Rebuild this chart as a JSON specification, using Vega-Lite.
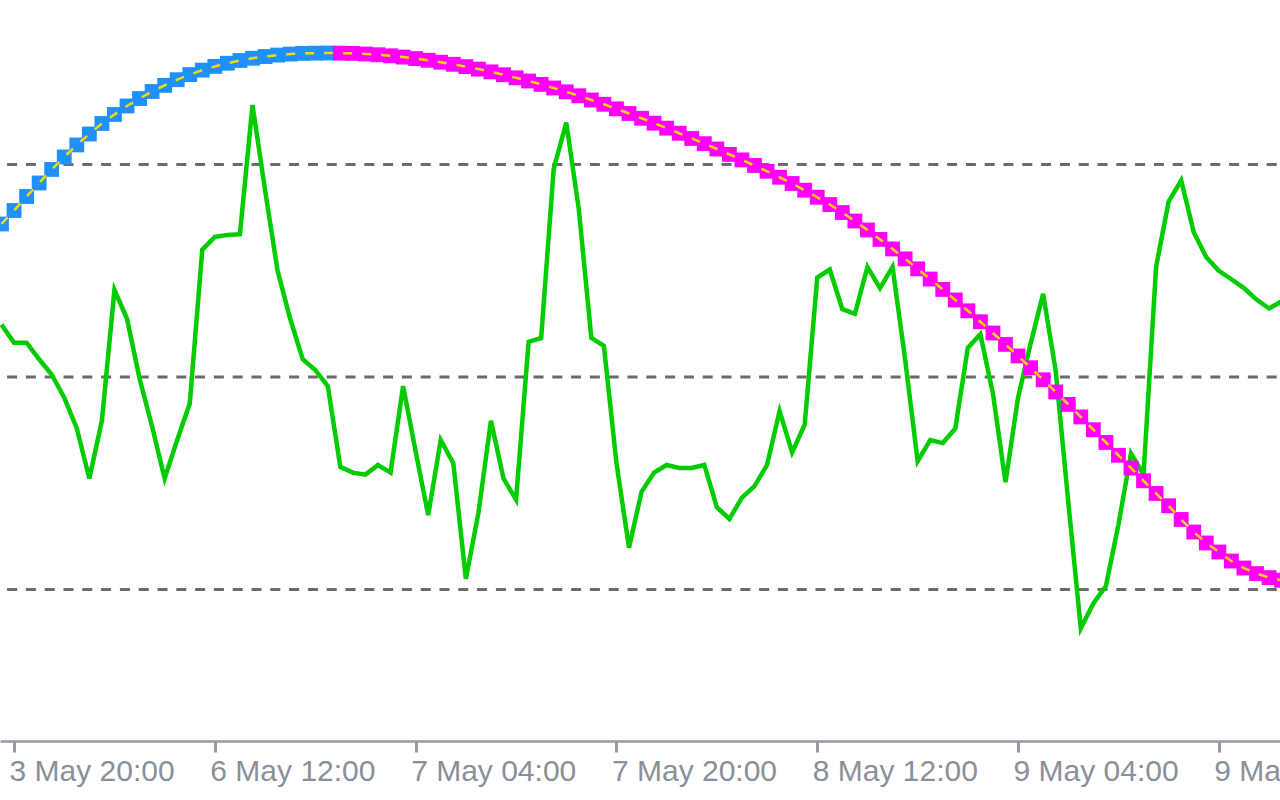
{
  "$schema": "https://vega.github.io/schema/vega-lite/v6.json",
  "width": 1280,
  "height": 741,
  "autosize": {"type": "none"},
  "padding": {"left": 0, "top": 0, "right": 0, "bottom": 59},
  "background": "#ffffff",
  "config": {"view": {"stroke": null}},
  "datasets": {
    "bars": [
      {"i":0,"osc":54.93,"trend":64.40,"dir":"up"},
      {"i":1,"osc":53.23,"trend":65.67,"dir":"up"},
      {"i":2,"osc":53.23,"trend":66.99,"dir":"up"},
      {"i":3,"osc":51.67,"trend":68.26,"dir":"up"},
      {"i":4,"osc":50.23,"trend":69.53,"dir":"up"},
      {"i":5,"osc":48.05,"trend":70.71,"dir":"up"},
      {"i":6,"osc":45.16,"trend":71.84,"dir":"up"},
      {"i":7,"osc":40.45,"trend":72.87,"dir":"up"},
      {"i":8,"osc":45.88,"trend":73.86,"dir":"up"},
      {"i":9,"osc":58.19,"trend":74.71,"dir":"up"},
      {"i":10,"osc":55.48,"trend":75.51,"dir":"up"},
      {"i":11,"osc":49.86,"trend":76.21,"dir":"up"},
      {"i":12,"osc":45.34,"trend":76.87,"dir":"up"},
      {"i":13,"osc":40.45,"trend":77.45,"dir":"up"},
      {"i":14,"osc":44.07,"trend":77.98,"dir":"up"},
      {"i":15,"osc":47.51,"trend":78.46,"dir":"up"},
      {"i":16,"osc":61.99,"trend":78.88,"dir":"up"},
      {"i":17,"osc":63.19,"trend":79.23,"dir":"up"},
      {"i":18,"osc":63.37,"trend":79.53,"dir":"up"},
      {"i":19,"osc":63.44,"trend":79.79,"dir":"up"},
      {"i":20,"osc":75.6,"trend":80.00,"dir":"up"},
      {"i":21,"osc":67.6,"trend":80.16,"dir":"up"},
      {"i":22,"osc":60.0,"trend":80.30,"dir":"up"},
      {"i":23,"osc":55.48,"trend":80.39,"dir":"up"},
      {"i":24,"osc":51.67,"trend":80.46,"dir":"up"},
      {"i":25,"osc":50.66,"trend":80.48,"dir":"up"},
      {"i":26,"osc":49.14,"trend":80.49,"dir":"up"},
      {"i":27,"osc":41.54,"trend":80.48,"dir":"down"},
      {"i":28,"osc":41.0,"trend":80.46,"dir":"down"},
      {"i":29,"osc":40.81,"trend":80.40,"dir":"down"},
      {"i":30,"osc":41.72,"trend":80.33,"dir":"down"},
      {"i":31,"osc":41.0,"trend":80.23,"dir":"down"},
      {"i":32,"osc":49.14,"trend":80.11,"dir":"down"},
      {"i":33,"osc":42.99,"trend":79.97,"dir":"down"},
      {"i":34,"osc":37.0,"trend":79.81,"dir":"down"},
      {"i":35,"osc":44.07,"trend":79.63,"dir":"down"},
      {"i":36,"osc":41.9,"trend":79.43,"dir":"down"},
      {"i":37,"osc":31.0,"trend":79.21,"dir":"down"},
      {"i":38,"osc":37.19,"trend":78.98,"dir":"down"},
      {"i":39,"osc":45.88,"trend":78.72,"dir":"down"},
      {"i":40,"osc":40.45,"trend":78.45,"dir":"down"},
      {"i":41,"osc":38.46,"trend":78.16,"dir":"down"},
      {"i":42,"osc":53.30,"trend":77.86,"dir":"down"},
      {"i":43,"osc":53.67,"trend":77.54,"dir":"down"},
      {"i":44,"osc":69.59,"trend":77.20,"dir":"down"},
      {"i":45,"osc":73.94,"trend":76.84,"dir":"down"},
      {"i":46,"osc":65.79,"trend":76.47,"dir":"down"},
      {"i":47,"osc":53.67,"trend":76.07,"dir":"down"},
      {"i":48,"osc":52.94,"trend":75.67,"dir":"down"},
      {"i":49,"osc":41.9,"trend":75.24,"dir":"down"},
      {"i":50,"osc":33.94,"trend":74.80,"dir":"down"},
      {"i":51,"osc":39.19,"trend":74.35,"dir":"down"},
      {"i":52,"osc":41.0,"trend":73.89,"dir":"down"},
      {"i":53,"osc":41.72,"trend":73.42,"dir":"down"},
      {"i":54,"osc":41.43,"trend":72.94,"dir":"down"},
      {"i":55,"osc":41.43,"trend":72.45,"dir":"down"},
      {"i":56,"osc":41.72,"trend":71.96,"dir":"down"},
      {"i":57,"osc":37.74,"trend":71.46,"dir":"down"},
      {"i":58,"osc":36.65,"trend":70.95,"dir":"down"},
      {"i":59,"osc":38.64,"trend":70.43,"dir":"down"},
      {"i":60,"osc":39.73,"trend":69.91,"dir":"down"},
      {"i":61,"osc":41.72,"trend":69.36,"dir":"down"},
      {"i":62,"osc":46.79,"trend":68.80,"dir":"down"},
      {"i":63,"osc":42.91,"trend":68.21,"dir":"down"},
      {"i":64,"osc":45.52,"trend":67.58,"dir":"down"},
      {"i":65,"osc":59.35,"trend":66.92,"dir":"down"},
      {"i":66,"osc":60.11,"trend":66.23,"dir":"down"},
      {"i":67,"osc":56.38,"trend":65.48,"dir":"down"},
      {"i":68,"osc":55.95,"trend":64.68,"dir":"down"},
      {"i":69,"osc":60.36,"trend":63.84,"dir":"down"},
      {"i":70,"osc":58.37,"trend":62.95,"dir":"down"},
      {"i":71,"osc":60.36,"trend":62.05,"dir":"down"},
      {"i":72,"osc":51.67,"trend":61.12,"dir":"down"},
      {"i":73,"osc":42.08,"trend":60.18,"dir":"down"},
      {"i":74,"osc":44.07,"trend":59.22,"dir":"down"},
      {"i":75,"osc":43.78,"trend":58.24,"dir":"down"},
      {"i":76,"osc":45.16,"trend":57.25,"dir":"down"},
      {"i":77,"osc":52.76,"trend":56.23,"dir":"down"},
      {"i":78,"osc":54.03,"trend":55.20,"dir":"down"},
      {"i":79,"osc":48.42,"trend":54.14,"dir":"down"},
      {"i":80,"osc":40.09,"trend":53.07,"dir":"down"},
      {"i":81,"osc":48.05,"trend":51.98,"dir":"down"},
      {"i":82,"osc":53.12,"trend":50.87,"dir":"down"},
      {"i":83,"osc":57.83,"trend":49.74,"dir":"down"},
      {"i":84,"osc":50.59,"trend":48.59,"dir":"down"},
      {"i":85,"osc":38.28,"trend":47.42,"dir":"down"},
      {"i":86,"osc":26.34,"trend":46.24,"dir":"down"},
      {"i":87,"osc":28.69,"trend":45.04,"dir":"down"},
      {"i":88,"osc":30.32,"trend":43.84,"dir":"down"},
      {"i":89,"osc":36.11,"trend":42.63,"dir":"down"},
      {"i":90,"osc":42.81,"trend":41.43,"dir":"down"},
      {"i":91,"osc":40.81,"trend":40.23,"dir":"down"},
      {"i":92,"osc":60.36,"trend":39.04,"dir":"down"},
      {"i":93,"osc":66.52,"trend":37.88,"dir":"down"},
      {"i":94,"osc":68.51,"trend":36.59,"dir":"down"},
      {"i":95,"osc":63.62,"trend":35.41,"dir":"down"},
      {"i":96,"osc":61.27,"trend":34.38,"dir":"down"},
      {"i":97,"osc":60.0,"trend":33.53,"dir":"down"},
      {"i":98,"osc":59.2,"trend":32.68,"dir":"down"},
      {"i":99,"osc":58.37,"trend":32.02,"dir":"down"},
      {"i":100,"osc":57.29,"trend":31.50,"dir":"down"},
      {"i":101,"osc":56.45,"trend":31.12,"dir":"down"},
      {"i":102,"osc":57.1,"trend":30.87,"dir":"down"}
    ],
    "levels": [{"level":70},{"level":50},{"level":30}]
  },
  "layer": [
    {
      "data": {"name": "levels"},
      "mark": {"type": "rule", "color": "#6b6b6b", "strokeWidth": 3, "strokeDash": [10, 8.8], "strokeDashOffset": 15.5},
      "encoding": {
        "y": {"field": "level", "type": "quantitative", "scale": {"domain": [15.741, 85.482], "nice": false, "zero": false}, "axis": null}
      }
    },
    {
      "data": {"name": "bars"},
      "mark": {"type": "line", "color": "#00cc00", "strokeWidth": 4.5, "clip": true},
      "encoding": {
        "x": {"field": "i", "type": "quantitative", "scale": {"domain": [-0.1195, 101.873], "nice": false, "zero": false},
          "axis": {
            "values": [1, 17, 33, 49, 65, 81, 97],
            "labelExpr": "datum.value == 1 ? '3 May 20:00' : datum.value == 17 ? '6 May 12:00' : datum.value == 33 ? '7 May 04:00' : datum.value == 49 ? '7 May 20:00' : datum.value == 65 ? '8 May 12:00' : datum.value == 81 ? '9 May 04:00' : '9 May 20:00'",
            "title": null, "grid": false,
            "labelFont": "Liberation Sans", "labelFontSize": 30, "labelColor": "#8a909a",
            "labelAlign": "left", "labelBaseline": "alphabetic", "labelPadding": 28, "labelOffset": -5,
            "labelOverlap": false, "labelBound": false, "labelFlush": false,
            "tickSize": 11, "tickWidth": 3, "tickColor": "#959aa1",
            "domainColor": "#959aa1", "domainWidth": 2.5
          }
        },
        "y": {"field": "osc", "type": "quantitative", "scale": {"domain": [15.741, 85.482], "nice": false, "zero": false}, "axis": null}
      }
    },
    {
      "data": {"name": "bars"},
      "mark": {"type": "point", "shape": "square", "filled": true, "size": 220, "opacity": 1, "clip": true},
      "encoding": {
        "x": {"field": "i", "type": "quantitative"},
        "y": {"field": "trend", "type": "quantitative"},
        "color": {"field": "dir", "type": "nominal", "scale": {"domain": ["up", "down"], "range": ["#1e90ff", "#ff00ff"]}, "legend": null}
      }
    },
    {
      "data": {"name": "bars"},
      "mark": {"type": "line", "color": "#ffd700", "strokeWidth": 2.5, "strokeDash": [9, 10], "clip": true},
      "encoding": {
        "x": {"field": "i", "type": "quantitative"},
        "y": {"field": "trend", "type": "quantitative"}
      }
    }
  ]
}
